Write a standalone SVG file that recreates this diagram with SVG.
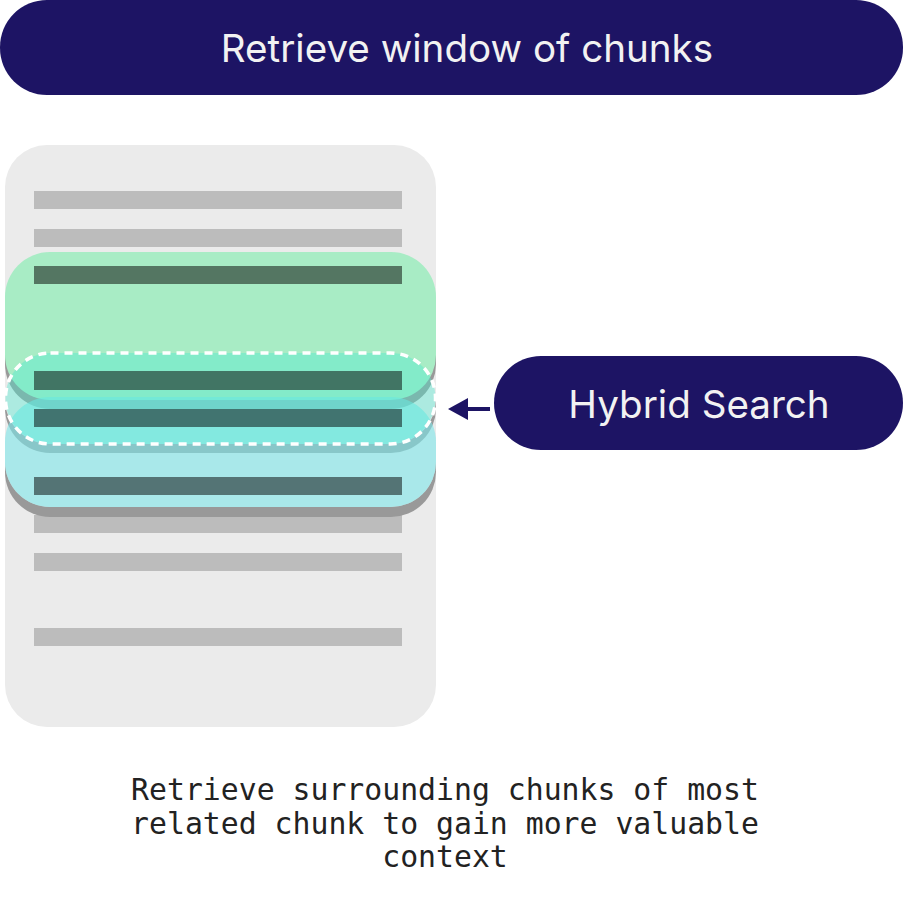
<svg xmlns="http://www.w3.org/2000/svg" width="903" height="899" viewBox="0 0 903 899">
<style>
.pill{fill:#1d1464}
.ptxt{fill:#f2f2f2;font-family:Inter,"Noto Sans",sans-serif;font-size:38.6px;text-anchor:middle}
.bar{fill:#bcbcbc}
.dbar{fill:#000;fill-opacity:0.5}
.shadow{fill:#999}
.back{fill:#ebebeb}
.mono{fill:#222;font-family:"DejaVu Sans Mono","Liberation Mono",monospace;font-size:29.8px;text-anchor:middle}
</style>
<defs>
<marker id="ah" markerWidth="22" markerHeight="24" refX="0" refY="12" orient="auto" markerUnits="userSpaceOnUse">
<path d="M0,1 L20,12 L0,23 Z" fill="#1d1464"/>
</marker>
</defs>
<g id="title">
<rect class="pill" x="0" y="0" width="903" height="95" rx="47"/>
<text class="ptxt" x="467" y="62">Retrieve window of chunks</text>
</g>
<g id="document">
<rect x="5" y="145" width="431" height="582" rx="42" fill="#ebebeb"/>
<rect class="bar" x="34" y="191" width="368" height="18"/>
<rect class="bar" x="34" y="229" width="368" height="18"/>
<rect class="bar" x="34" y="515" width="368" height="18"/>
<rect class="bar" x="34" y="553" width="368" height="18"/>
<rect class="bar" x="34" y="628" width="368" height="18"/>
</g>
<g id="window">
<rect class="shadow" x="5" y="407" width="431" height="110" rx="45"/>
<rect class="back" x="5" y="397" width="431" height="110" rx="45"/>
<rect class="shadow" x="5" y="362" width="431" height="91" rx="45"/>
<rect class="back" x="5" y="353" width="431" height="91" rx="45"/>
<rect class="shadow" x="5" y="261" width="431" height="148" rx="45"/>
<rect x="5" y="252" width="431" height="148" rx="45" fill="#a8ecc5"/>
<rect x="5" y="397" width="431" height="110" rx="45" fill="#7de6e9" fill-opacity="0.6"/>
</g>
<g id="match">
<rect x="5.5" y="353" width="430" height="91" rx="45" fill="#46e9d0" fill-opacity="0.38" stroke="#fff" stroke-width="3.5" stroke-dasharray="8 6"/>
</g>
<g id="chunks">
<rect class="dbar" x="34" y="266" width="368" height="18"/>
<rect class="dbar" x="34" y="371" width="368" height="19"/>
<rect class="dbar" x="34" y="409" width="368" height="18"/>
<rect class="dbar" x="34" y="477" width="368" height="18"/>
</g>
<g id="connectors">
<line x1="490" y1="409" x2="468" y2="409" stroke="#1d1464" stroke-width="4" marker-end="url(#ah)"/>
</g>
<g id="hybrid">
<rect class="pill" x="494" y="356" width="409" height="94" rx="47"/>
<text class="ptxt" x="699" y="418">Hybrid Search</text>
</g>
<g id="caption">
<text class="mono" x="445" y="800">Retrieve surrounding chunks of most</text>
<text class="mono" x="445" y="834">related chunk to gain more valuable</text>
<text class="mono" x="445" y="867">context</text>
</g>
</svg>
